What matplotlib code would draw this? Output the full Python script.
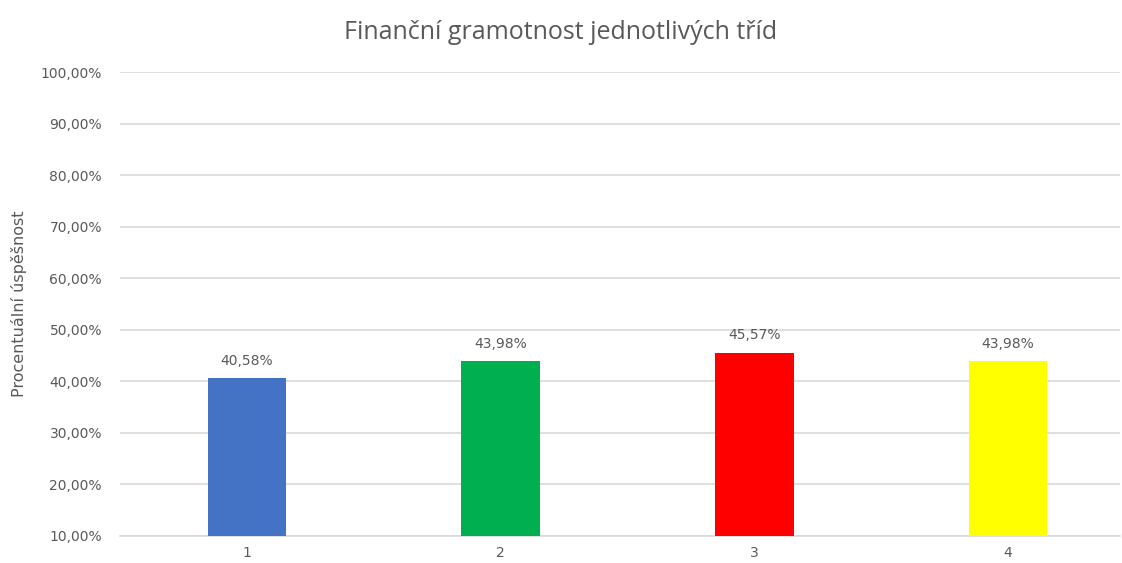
import matplotlib.pyplot as plt
from matplotlib.ticker import FuncFormatter

# data
classes = ["1", "2", "3", "4"]
values = [40.58, 43.98, 45.57, 43.98]
colors = ["#4472C4", "#00B050", "#FF0000", "#FFFF00"]

plt.rcParams['font.family'] = ['DejaVu Sans']
text_color = "#595959"

fig = plt.figure(figsize=(11.22, 5.63), dpi=100)
ax = fig.add_axes([0.107, 0.048, 0.891, 0.824])

x = range(len(classes))
bars = ax.bar(x, values, width=0.31, color=colors, zorder=3)

# value labels above the bars
for i, v in enumerate(values):
    ax.text(i, v + 2.0, f"{v:.2f}%".replace(".", ","), ha="center", va="bottom",
            fontsize=10, color=text_color)

ax.set_ylim(10, 100)
ax.set_xlim(-0.5, 3.44)
ax.set_yticks(range(10, 101, 10))
ax.yaxis.set_major_formatter(FuncFormatter(lambda v, p: f"{v:.2f}%".replace(".", ",")))
ax.set_xticks(list(x))
ax.set_xticklabels(classes)
ax.tick_params(axis="both", length=0, labelsize=10, colors=text_color)
ax.tick_params(axis="y", pad=13)
ax.tick_params(axis="x", pad=7)
ax.grid(axis="y", color="#d9d9d9", linewidth=1.2, zorder=0)
for s in ["top", "right", "left"]:
    ax.spines[s].set_visible(False)
ax.spines["bottom"].set_color("#d9d9d9")
ax.spines["bottom"].set_linewidth(1.2)

ax.set_ylabel("Procentuální úspěšnost", fontsize=11.5, color=text_color)
ax.yaxis.set_label_coords(-0.093, 0.5)
fig.suptitle("Finanční gramotnost jednotlivých tříd", fontsize=18, color=text_color,
             y=0.965, family=['Open Sans', 'DejaVu Sans'])

plt.savefig("out.png", dpi=100)
